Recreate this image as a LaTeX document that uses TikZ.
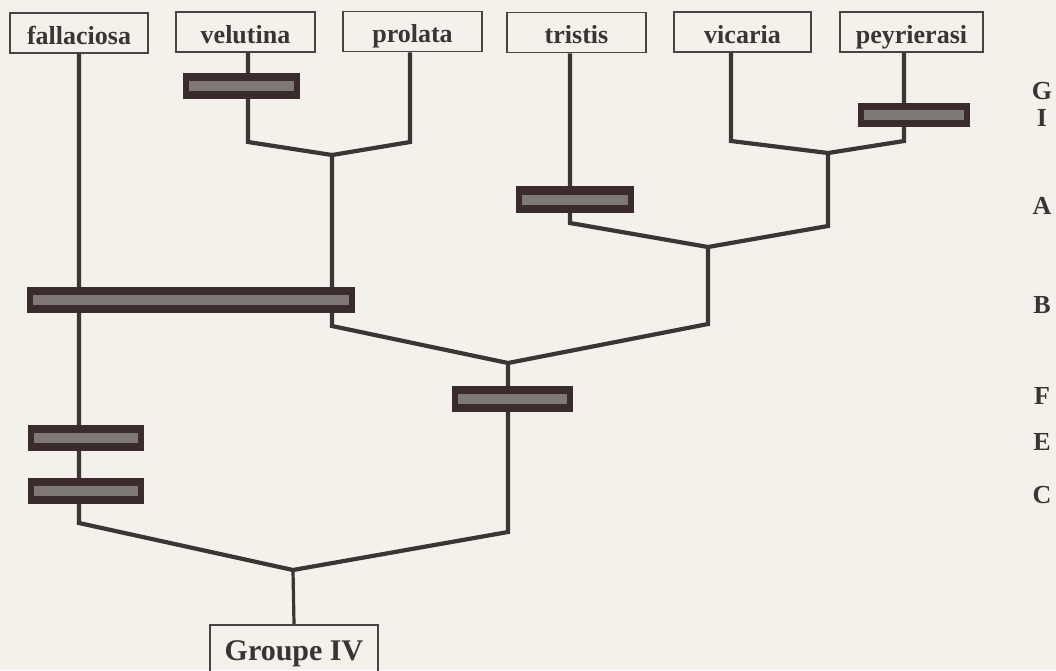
\documentclass[tikz,border=0pt]{standalone}
\usepackage{fontspec}
\setmainfont{Liberation Serif}
\definecolor{bg}{HTML}{F4F0EA}
\definecolor{linec}{HTML}{3D3434}
\definecolor{barc}{HTML}{3A2C2C}
\definecolor{stripe}{HTML}{7E7876}
\definecolor{txt}{HTML}{3A3434}
\definecolor{boxc}{HTML}{4A4343}
\begin{document}
\begin{tikzpicture}[x=1pt,y=-1pt,
  sp/.style={draw=boxc, line width=1.8pt, font=\fontsize{26}{26}\selectfont\bfseries, text=txt, minimum height=40pt, inner sep=0pt, text height=24pt, text depth=2pt},
  br/.style={draw=linec, line width=4.2pt, line join=miter},
  bar/.style={fill=barc, inner sep=0pt, minimum height=26pt,
    path picture={\fill[stripe] ([xshift=6pt,yshift=-5pt]path picture bounding box.west) rectangle ([xshift=-6pt,yshift=5pt]path picture bounding box.east);}},
  lvl/.style={font=\fontsize{26}{26}\selectfont\bfseries, text=txt, inner sep=0pt}]
\fill[bg] (0,0) rectangle (1056,670);
\useasboundingbox (0,0) rectangle (1056,670);
\clip (0,0) rectangle (1056,670);

% species boxes
\node[sp, minimum width=138pt] (fal) at (79,33) {fallaciosa};
\node[sp, minimum width=139pt] (vel) at (245.5,32) {velutina};
\node[sp, minimum width=139pt] (pro) at (412.5,31.5) {prolata};
\node[sp, minimum width=139pt] (tri) at (576.5,32.5) {tristis};
\node[sp, minimum width=137pt] (vic) at (742.5,32) {vicaria};
\node[sp, minimum width=143pt] (pey) at (911.5,32) {peyrierasi};
\node[sp, minimum width=168pt, minimum height=54pt, text height=22pt, text depth=6pt, font=\fontsize{30}{30}\selectfont\bfseries] (grp) at (294,652) {Groupe IV};

% junctions
\coordinate (j1) at (332,155);
\coordinate (j2) at (828,153);
\coordinate (j3) at (708,247);
\coordinate (j4) at (508,363);
\coordinate (j5) at (293,570);

% branches
\draw[br] ([xshift=2.5pt]vel.south) -- (248,142) -- (j1) -- (410,142) -- ([xshift=-2.5pt]pro.south);
\draw[br] ([xshift=-11.5pt]vic.south) -- (731,141) -- (j2) -- (904,141) -- ([xshift=-7.5pt]pey.south);
\draw[br] ([xshift=-6.5pt]tri.south) -- (570,223) -- (j3) -- (828,226) -- (j2);
\draw[br] (j1) -- (332,326) -- (j4) -- (708,324) -- (j3);
\draw[br] (fal.south) -- (79,523) -- (j5) -- (508,532) -- (j4);
\draw[br, line width=3.2pt] (j5) -- (grp.north);

% character bars
\node[bar, minimum width=117pt] (barG) at (241.5,85.5) {};
\node[bar, minimum width=112pt, minimum height=24pt] (barI) at (914,115) {};
\node[bar, minimum width=118pt, minimum height=27pt] (barA) at (575,199.5) {};
\node[bar, minimum width=328pt] (barB) at (191,300) {};
\node[bar, minimum width=121pt] (barF) at (512.5,399) {};
\node[bar, minimum width=116pt] (barE) at (86,438) {};
\node[bar, minimum width=116pt] (barC) at (86,491) {};

% level letters
\node[lvl] (lG) at (1042,91) {G};
\node[lvl] (lI) at (1042,118) {I};
\node[lvl] (lA) at (1042,206) {A};
\node[lvl] (lB) at (1042,305) {B};
\node[lvl] (lF) at (1042,396) {F};
\node[lvl] (lE) at (1042,442) {E};
\node[lvl] (lC) at (1042,495) {C};
\end{tikzpicture}
\end{document}
